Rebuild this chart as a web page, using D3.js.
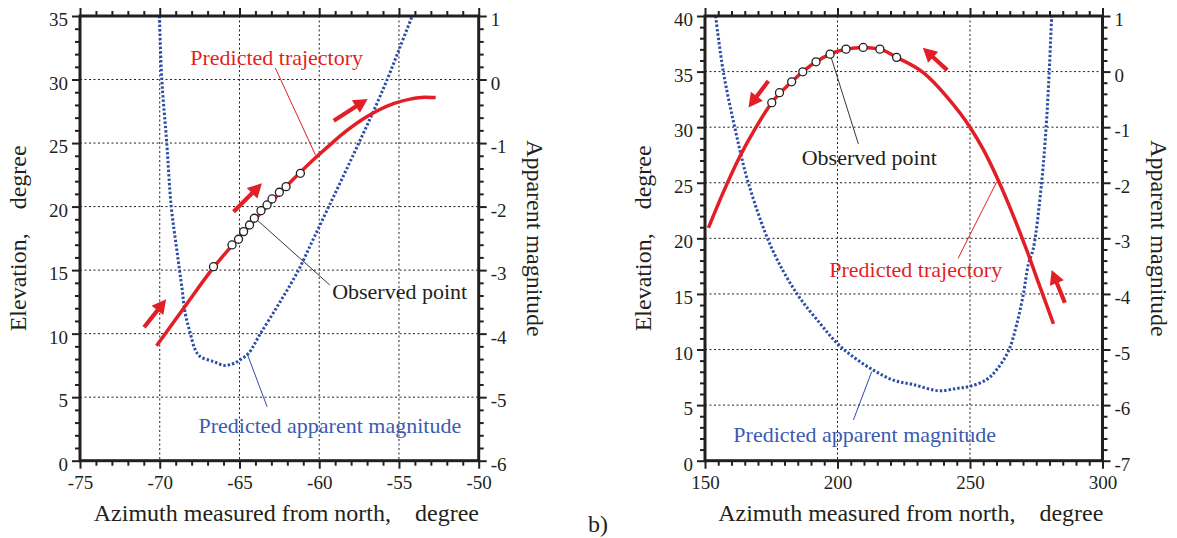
<!DOCTYPE html>
<html>
<head>
<meta charset="utf-8">
<script src="https://cdn.jsdelivr.net/npm/d3@7"></script>
<style>
  body { margin: 0; background: #ffffff; }
  .grid { stroke: #231f20; stroke-width: 1; stroke-dasharray: 2 2.5; }
  .axis path { display: none; }
  .axis line { stroke: #231f20; stroke-width: 2; }
</style>
</head>
<body>
<svg id="chart" width="1177" height="538"></svg>
<script>
const SERIF = "'Liberation Serif', Tinos, 'Times New Roman'";

// ----- panel (a): azimuth -75 .. -50 -----
const aXTicks = [-75, -70, -65, -60, -55, -50];
const aYTicks = [0, 5, 10, 15, 20, 25, 30, 35];
const aY2Ticks = [-6, -5, -4, -3, -2, -1, 0, 1];

// predicted trajectory (azimuth, elevation)
const aTrajAz = [-70.2, -68.5, -66.6, -65.0, -63.5, -62.0, -61.2, -60.2, -59.2, -58.3, -57.3, -56.3, -55.3, -54.3, -53.4, -52.7];
const aTrajEl = [9.05, 12.0, 15.25, 17.6, 19.72, 21.68, 22.68, 23.88, 25.0, 25.95, 26.85, 27.58, 28.12, 28.46, 28.6, 28.58];

// observed points
const aObsAz = [-66.63, -65.47, -65.06, -64.74, -64.37, -64.07, -63.65, -63.27, -62.96, -62.5, -62.08, -61.18];
const aObsEl = [15.27, 16.98, 17.43, 18.03, 18.55, 19.08, 19.68, 20.13, 20.6, 21.13, 21.57, 22.62];

// predicted apparent magnitude (azimuth, magnitude)
const aMagAz = [-70.02, -69.87, -69.56, -69.28, -68.93, -68.6, -68.4, -68.09, -67.78, -67.46, -66.63, -65.95,
                -65.37, -64.95, -64.43, -63.69, -62.5, -61.3, -60.35, -59.4, -58.45, -57.52, -56.6, -55.74, -54.95, -54.17];
const aMagVal = [1.0, 0.0, -1.0, -2.0, -2.68, -3.3, -3.68, -3.99, -4.25, -4.36, -4.44, -4.5,
                 -4.47, -4.41, -4.31, -4.0, -3.52, -3.0, -2.5, -2.0, -1.5, -1.0, -0.5, 0.0, 0.5, 1.0];

// ----- panel (b): azimuth 150 .. 300 -----
const bXTicks = [150, 200, 250, 300];
const bYTicks = [0, 5, 10, 15, 20, 25, 30, 35, 40];
const bY2Ticks = [-7, -6, -5, -4, -3, -2, -1, 0, 1];

const bTrajAz = [151.3, 157.0, 163.0, 169.0, 175.2, 182.7, 191.9, 197.2, 203.2, 209.7, 216.0, 222.3, 232.4, 241.2, 250.0, 255.0, 260.7, 266.4, 271.7, 276.0, 281.5];
const bTrajEl = [20.95, 24.2, 27.3, 29.9, 32.2, 34.08, 35.88, 36.57, 37.02, 37.17, 37.02, 36.28, 34.9, 32.75, 30.0, 28.0, 25.2, 22.0, 18.75, 15.9, 12.3];

const bObsAz = [175.2, 178.1, 182.7, 186.9, 191.9, 197.2, 203.2, 209.7, 216.0, 222.3];
const bObsEl = [32.2, 33.1, 34.08, 34.98, 35.88, 36.57, 37.02, 37.17, 37.02, 36.28];

const bMagAz = [154.0, 156.9, 161.3, 166.4, 175.2, 184.6, 193.4, 199.9, 205.9, 213.5, 221.0, 228.6, 238.0,
                245.0, 250.1, 256.3, 260.1, 264.5, 267.6, 270.1, 272.0, 273.9, 277.0, 278.7, 279.9, 280.8];
const bMagVal = [1.0, 0.0, -1.02, -2.01, -3.18, -3.99, -4.53, -4.89, -5.13, -5.37, -5.55, -5.63, -5.74,
                 -5.7, -5.66, -5.54, -5.36, -5.03, -4.55, -4.01, -3.47, -3.18, -2.01, -1.02, 0.0, 1.0];

// direction arrows, in (azimuth, elevation): tail -> tip
const aArrows = [[-70.98, 10.5, -69.6, 12.7], [-65.37, 19.6, -63.59, 21.83], [-59.09, 26.76, -56.96, 28.47]];
const bArrows = [[173.9, 34.15, 166.4, 31.78], [241.4, 35.13, 232.2, 37.14], [285.8, 14.2, 280.8, 17.15]];

// callout labels: text, anchor (azimuth, elevation), leader from -> to
const aNotes = [
  { text: "Predicted trajectory", kind: "traj", at: [-68.09, 31.16], from: [-62.75, 30.9], to: [-60.24, 24.07] },
  { text: "Observed point", kind: "obs", at: [-59.19, 12.71], from: [-63.9, 18.95], to: [-59.34, 13.83] },
  { text: "Predicted apparent magnitude", kind: "mag", at: [-67.57, 2.2], from: [-64.53, 8.46], to: [-63.27, 4.25] }
];
const bNotes = [
  { text: "Observed point", kind: "obs", at: [186.5, 26.6], from: [197.2, 36.57], to: [207.9, 28.48] },
  { text: "Predicted trajectory", kind: "traj", at: [196.9, 16.5], from: [260.1, 25.09], to: [245.5, 18.2] },
  { text: "Predicted apparent magnitude", kind: "mag", at: [160.7, 1.71], from: [212.9, 8.0], to: [206.0, 3.66] }
];

const RED = "#e21f26", BLUE = "#2d4ea6", BLUE_TEXT = "#3b5bb0", INK = "#231f20";
const noteColor = { traj: RED, obs: INK, mag: BLUE_TEXT };

const svg = d3.select("#chart");

function minorValues(domain, step, majors) {
  const lo = Math.min(...domain), hi = Math.max(...domain);
  return d3.range(lo, hi + step / 2, step)
    .map(v => +v.toFixed(4))
    .filter(v => !majors.some(m => Math.abs(m - v) < 1e-6));
}

// serif text helper
function label(sel, size, color) {
  return sel.style("font-family", SERIF).style("font-size", size + "px").style("fill", color || INK);
}

function drawPanel(cfg) {
  const g = svg.append("g");
  const x = d3.scaleLinear().domain(cfg.xDomain).range([cfg.left, cfg.right]);
  const y = d3.scaleLinear().domain(cfg.yDomain).range([cfg.bottom, cfg.top]);
  const y2 = d3.scaleLinear().domain(cfg.y2Domain).range([cfg.bottom, cfg.top]);

  // dotted grid at interior major ticks
  g.append("g").selectAll("line").data(cfg.xTicks.slice(1, -1)).join("line")
    .attr("class", "grid")
    .attr("x1", d => x(d)).attr("x2", d => x(d))
    .attr("y1", cfg.top).attr("y2", cfg.bottom);
  g.append("g").selectAll("line").data(cfg.yTicks.slice(1, -1)).join("line")
    .attr("class", "grid")
    .attr("y1", d => y(d)).attr("y2", d => y(d))
    .attr("x1", cfg.left).attr("x2", cfg.right);

  // predicted apparent magnitude (dotted blue)
  const magLine = d3.line().x(d => x(d[0])).y(d => y2(d[1])).curve(d3.curveCatmullRom.alpha(0.5));
  g.append("path")
    .datum(cfg.magAz.map((a, i) => [a, cfg.magVal[i]]))
    .attr("d", magLine)
    .attr("fill", "none").attr("stroke", BLUE).attr("stroke-width", 3)
    .attr("stroke-dasharray", "2.4 2");

  // predicted trajectory (solid red)
  const trajLine = d3.line().x(d => x(d[0])).y(d => y(d[1])).curve(d3.curveMonotoneX);
  g.append("path")
    .datum(cfg.trajAz.map((a, i) => [a, cfg.trajEl[i]]))
    .attr("d", trajLine)
    .attr("fill", "none").attr("stroke", RED).attr("stroke-width", 3.5)
    .attr("stroke-linecap", "butt");

  // callout leaders and texts
  cfg.notes.forEach(n => {
    g.append("line")
      .attr("x1", x(n.from[0])).attr("y1", y(n.from[1]))
      .attr("x2", x(n.to[0])).attr("y2", y(n.to[1]))
      .attr("stroke", n.kind === "mag" ? BLUE : noteColor[n.kind])
      .attr("stroke-width", n.kind === "obs" ? 0.9 : 1);
    g.append("text")
      .attr("x", x(n.at[0])).attr("y", y(n.at[1]))
      .call(label, 22, noteColor[n.kind])
      .text(n.text);
  });

  // observed points
  g.append("g").selectAll("circle")
    .data(cfg.obsAz.map((a, i) => [a, cfg.obsEl[i]]))
    .join("circle")
    .attr("cx", d => x(d[0])).attr("cy", d => y(d[1])).attr("r", 4)
    .attr("fill", "#ffffff").attr("stroke", INK).attr("stroke-width", 1.3);

  // direction arrows
  cfg.arrows.forEach(a => {
    const x0 = x(a[0]), y0 = y(a[1]), x1 = x(a[2]), y1 = y(a[3]);
    const L = Math.hypot(x1 - x0, y1 - y0);
    const ux = (x1 - x0) / L, uy = (y1 - y0) / L, px = -uy, py = ux;
    const head = 14, hw = 7.5, sw = 2.1;
    const bx = x1 - ux * head, by = y1 - uy * head;
    const pts = [
      [x0 + px * sw, y0 + py * sw], [bx + px * sw, by + py * sw], [bx + px * hw, by + py * hw],
      [x1, y1],
      [bx - px * hw, by - py * hw], [bx - px * sw, by - py * sw], [x0 - px * sw, y0 - py * sw]
    ];
    g.append("polygon").attr("points", pts.map(p => p.join(",")).join(" ")).attr("fill", RED);
  });

  // axes: major and minor outward ticks on all four sides
  const fmt = d => String(d);
  const xMinor = minorValues(cfg.xDomain, cfg.xMinor, cfg.xTicks);
  const yMinor = minorValues(cfg.yDomain, cfg.yMinor, cfg.yTicks);
  const y2Minor = minorValues(cfg.y2Domain, cfg.y2Minor, cfg.y2Ticks);

  const bottom = g.append("g").attr("class", "axis").attr("transform", `translate(0,${cfg.bottom})`);
  bottom.call(d3.axisBottom(x).tickValues(xMinor).tickSize(5).tickFormat(""));
  bottom.append("g").call(d3.axisBottom(x).tickValues(cfg.xTicks).tickSize(8).tickPadding(7).tickFormat(fmt))
    .call(s => s.selectAll("text").call(label, 19));

  const top = g.append("g").attr("class", "axis").attr("transform", `translate(0,${cfg.top})`);
  top.call(d3.axisTop(x).tickValues(xMinor).tickSize(5).tickFormat(""));
  top.append("g").call(d3.axisTop(x).tickValues(cfg.xTicks).tickSize(8).tickFormat(""));

  const left = g.append("g").attr("class", "axis").attr("transform", `translate(${cfg.left},0)`);
  left.call(d3.axisLeft(y).tickValues(yMinor).tickSize(5).tickFormat(""));
  left.append("g").call(d3.axisLeft(y).tickValues(cfg.yTicks).tickSize(8).tickPadding(4).tickFormat(fmt))
    .call(s => s.selectAll("text").attr("dy", "0.5em").call(label, 19));

  const right = g.append("g").attr("class", "axis").attr("transform", `translate(${cfg.right},0)`);
  right.call(d3.axisRight(y2).tickValues(y2Minor).tickSize(5).tickFormat(""));
  right.append("g").call(d3.axisRight(y2).tickValues(cfg.y2Ticks).tickSize(8).tickPadding(4).tickFormat(fmt))
    .call(s => s.selectAll("text").attr("dy", "0.5em").call(label, 19));

  // frame
  g.append("rect")
    .attr("x", cfg.left).attr("y", cfg.top)
    .attr("width", cfg.right - cfg.left).attr("height", cfg.bottom - cfg.top)
    .attr("fill", "none").attr("stroke", INK).attr("stroke-width", 3);

  // axis titles
  const cx = (cfg.left + cfg.right) / 2, cy = (cfg.top + cfg.bottom) / 2;
  g.append("text")
    .attr("x", cx + 7).attr("y", cfg.bottom + 60)
    .attr("text-anchor", "middle").call(label, 24)
    .style("white-space", "pre")
    .text("Azimuth measured from north,    degree");
  g.append("text")
    .attr("transform", `translate(${cfg.left - 54},${cy}) rotate(-90)`)
    .attr("text-anchor", "middle").call(label, 24)
    .style("white-space", "pre")
    .text("Elevation,    degree");
  g.append("text")
    .attr("transform", `translate(${cfg.right + 48},${cy}) rotate(90)`)
    .attr("text-anchor", "middle").call(label, 24)
    .text("Apparent magnitude");
}

drawPanel({
  left: 80, right: 478.7, top: 16, bottom: 460.7,
  xDomain: [-75, -50], yDomain: [0, 35], y2Domain: [-6, 1],
  xTicks: aXTicks, yTicks: aYTicks, y2Ticks: aY2Ticks,
  xMinor: 1, yMinor: 1, y2Minor: 0.2,
  trajAz: aTrajAz, trajEl: aTrajEl, obsAz: aObsAz, obsEl: aObsEl,
  magAz: aMagAz, magVal: aMagVal, arrows: aArrows, notes: aNotes
});

drawPanel({
  left: 705, right: 1102.5, top: 16, bottom: 460.7,
  xDomain: [150, 300], yDomain: [0, 40], y2Domain: [-7, 1],
  xTicks: bXTicks, yTicks: bYTicks, y2Ticks: bY2Ticks,
  xMinor: 5, yMinor: 1, y2Minor: 0.2,
  trajAz: bTrajAz, trajEl: bTrajEl, obsAz: bObsAz, obsEl: bObsEl,
  magAz: bMagAz, magVal: bMagVal, arrows: bArrows, notes: bNotes
});

// sub-figure tag
svg.append("text").attr("x", 588).attr("y", 531.5).call(label, 24).text("b)");
</script>
</body>
</html>
